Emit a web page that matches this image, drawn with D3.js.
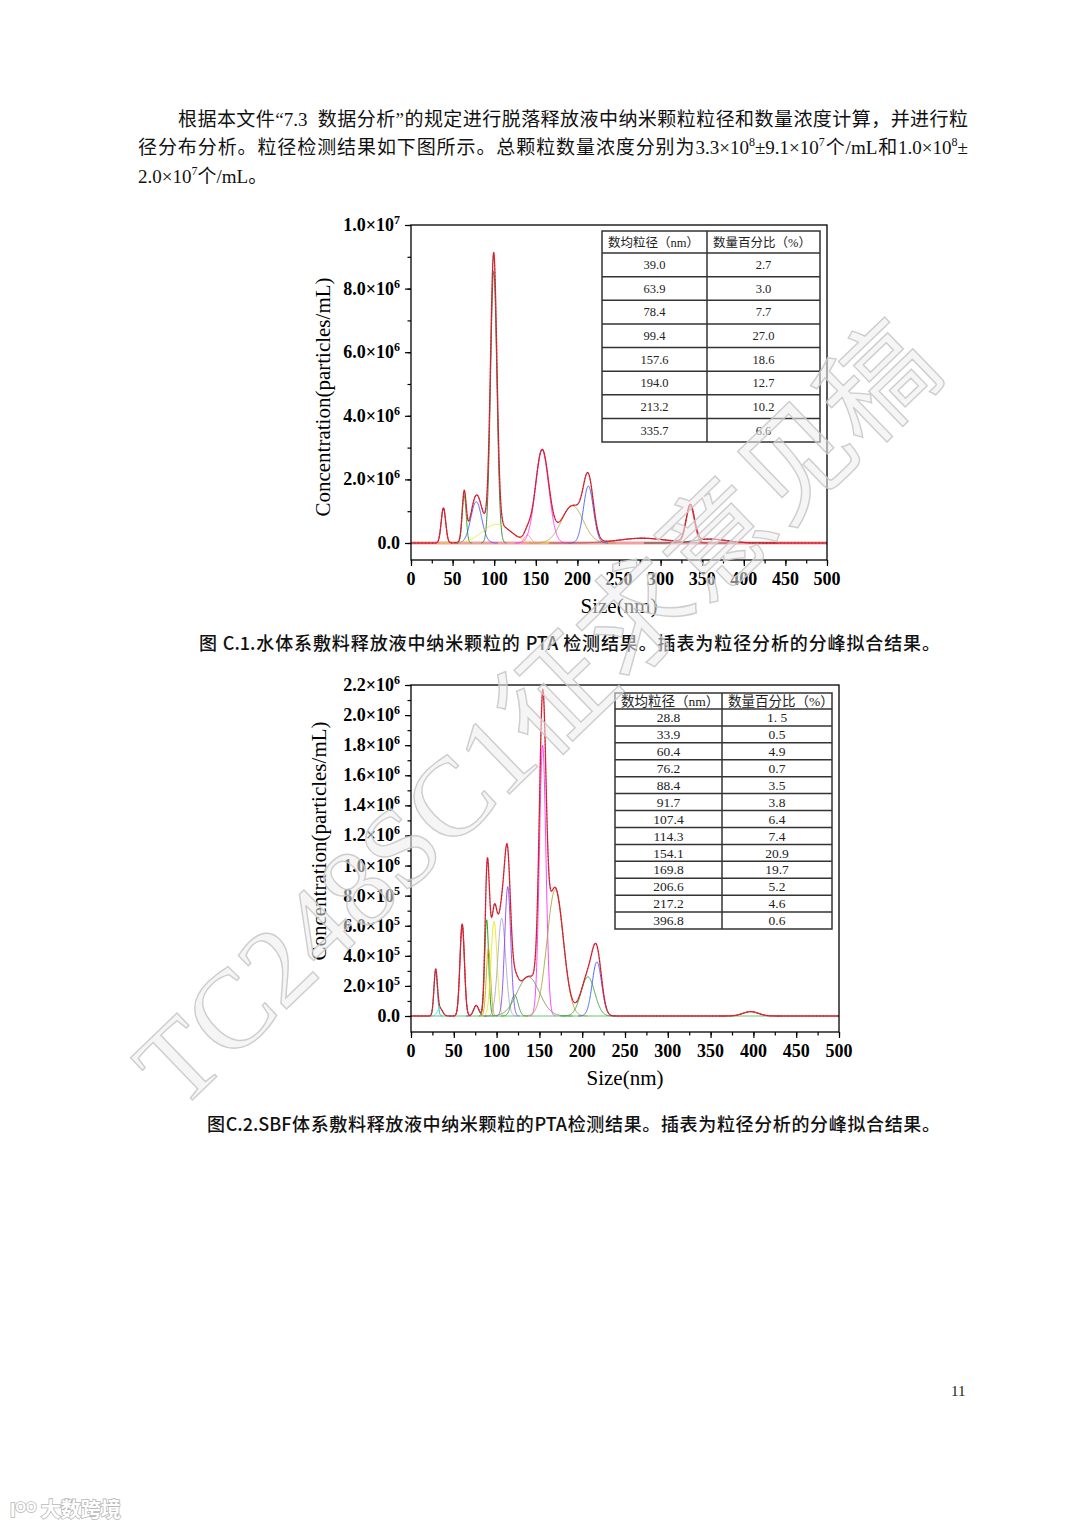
<!DOCTYPE html>
<html>
<head>
<meta charset="utf-8">
<title>纳米颗粒 PTA 检测结果</title>
<style>
    body { margin: 0; background: #fff; }
    #page { position: relative; width: 1080px; height: 1527px; overflow: hidden; background: #fff; }
    #charts, #mark { position: absolute; left: 0; top: 0; }
    #mark { pointer-events: none; }
    .line {
        position: absolute;
        font-family: "Liberation Serif", "Noto Sans CJK SC", serif;
        font-size: 19px; line-height: 29px; height: 29px; color: #111;
    }
    .just { text-align: justify; text-align-last: justify; }
    .line sup { font-size: 12px; vertical-align: 0; position: relative; top: -8px; }
    .cap {
        position: absolute;
        font-family: "Liberation Sans Narrow", "Noto Sans CJK SC", sans-serif;
        font-size: 18px; font-weight: 500; line-height: 26px; height: 26px; color: #111;
        text-align: justify; text-align-last: justify;
    }
    .pnum { position: absolute; font-family: "Liberation Serif", serif; font-size: 15px; color: #222; }
</style>
<script src="https://d3js.org/d3.v7.min.js"></script>
</head>
<body>
<div id="page">
    <svg id="charts" width="1080" height="1527"></svg>

    <div class="line just" style="left:178px;top:105px;width:790px;">根据本文件“7.3&nbsp;&nbsp;数据分析”的规定进行脱落释放液中纳米颗粒粒径和数量浓度计算，并进行粒</div>
    <div class="line just" style="left:138px;top:133px;width:830px;">径分布分析。粒径检测结果如下图所示。总颗粒数量浓度分别为3.3×10<sup>8</sup>±9.1×10<sup>7</sup>个/mL和1.0×10<sup>8</sup>±</div>
    <div class="line" style="left:138px;top:162px;">2.0×10<sup>7</sup>个/mL。</div>

    <div class="cap" style="left:199px;top:629px;width:741px;">图 C.1.水体系敷料释放液中纳米颗粒的 PTA 检测结果。插表为粒径分析的分峰拟合结果。</div>
    <div class="cap" style="left:207px;top:1110px;width:733px;">图C.2.SBF体系敷料释放液中纳米颗粒的PTA检测结果。插表为粒径分析的分峰拟合结果。</div>

    <div class="pnum" style="left:951px;top:1383px;">11</div>

    <svg id="mark" width="1080" height="1527"></svg>
</div>

<script>
    // ---------- data ----------
    // figure C.1 : fitted peaks (centre nm, height particles/mL, sigma nm)
    var peakCenter1 = [39.0, 63.9, 78.4, 99.4, 103, 140, 157.6, 194.0, 213.2, 278, 335.7, 360];
    var peakHeight1 = [1.1e6, 1.5e6, 1.3e6, 8.55e6, 0.59e6, 0.25e6, 2.92e6, 1.17e6, 1.79e6, 0.15e6, 1.14e6, 0.12e6];
    var peakSigma1 = [2.7, 2.4, 6.5, 3.8, 17, 4, 8, 13, 6, 28, 5, 20];

    // figure C.2 : fitted peaks
    var peakCenter2 = [28.8, 33.9, 59.8, 76.2, 88.4, 90.5, 97, 106, 113, 121, 137, 153.8, 168.5, 206.6, 217.2, 396.8];
    var peakHeight2 = [3.0e5, 0.5e5, 6.1e5, 0.7e5, 6.4e5, 4.5e5, 6.3e5, 6.5e5, 8.6e5, 1.4e5, 2.6e5, 18.0e5, 8.4e5, 2.6e5, 3.6e5, 0.29e5];
    var peakSigma2 = [2.0, 3, 2.6, 3, 2.3, 2.5, 3.5, 4.5, 3.5, 4, 13, 3.8, 9.5, 8, 5.5, 9];

    // inset tables
    var tableSize1 = ["39.0", "63.9", "78.4", "99.4", "157.6", "194.0", "213.2", "335.7"];
    var tablePct1 = ["2.7", "3.0", "7.7", "27.0", "18.6", "12.7", "10.2", "6.6"];
    var tableSize2 = ["28.8", "33.9", "60.4", "76.2", "88.4", "91.7", "107.4", "114.3", "154.1", "169.8", "206.6", "217.2", "396.8"];
    var tablePct2 = ["1. 5", "0.5", "4.9", "0.7", "3.5", "3.8", "6.4", "7.4", "20.9", "19.7", "5.2", "4.6", "0.6"];
    var tableHead = ["数均粒径（nm）", "数量百分比（%）"];

    // ticks
    var xTicks = [0, 50, 100, 150, 200, 250, 300, 350, 400, 450, 500];
    var yTicks1 = [0, 2e6, 4e6, 6e6, 8e6, 1e7];
    var yTicks2 = [0, 2e5, 4e5, 6e5, 8e5, 1e6, 1.2e6, 1.4e6, 1.6e6, 1.8e6, 2.0e6, 2.2e6];

    // component colours
    var colors1 = ["#e04848", "#10b010", "#4848ff", "#2e7d2e", "#e6e620", "#ff80c0", "#ff30ff", "#b0a040", "#3858ff", "#a04858", "#e02828", "#303030"];
    var colors2 = ["#00c8c8", "#40e0e0", "#c82828", "#4848ff", "#00a000", "#e0a000", "#e8e820", "#a8a8c8", "#8844ff", "#20a040", "#6a8a6a", "#ff30ff", "#b0a030", "#30a030", "#3858ff", "#d03030"];

    var serif = "'Liberation Serif', 'Times New Roman', serif";
    var cjk = "'Liberation Serif', 'Noto Sans CJK SC', serif";

    function gauss(c, h, s, x) {
        return h * Math.exp(-(x - c) * (x - c) / (2 * s * s));
    }

    function splitLabel(v) {
        if (v === 0) return ["0.0", ""];
        var e = Math.floor(Math.log10(v) + 1e-9);
        return [(v / Math.pow(10, e)).toFixed(1) + "×10", String(e)];
    }

    var svg = d3.select("#charts");

    function drawChart(box, yMax, yTicks, yMinorStep, centers, heights, sigmas, colors, baseCol, tbl) {
        var g = svg.append("g");

        var x = d3.scaleLinear().domain([0, 500]).range([box.left, box.right]);
        var y = d3.scaleLinear().domain([0, yMax]).range([box.zero, box.top]);

        var grid = d3.range(0, 500.001, 0.25);
        var line = d3.line()
            .x(function(d) { return x(d[0]); })
            .y(function(d) { return y(d[1]); });

        // baseline
        g.append("line")
            .attr("x1", x(0)).attr("x2", x(500))
            .attr("y1", y(0)).attr("y2", y(0))
            .attr("stroke", baseCol.color).attr("stroke-width", baseCol.width);

        // components
        centers.forEach(function(c, i) {
            var s = sigmas[i];
            var pts = grid.filter(function(v) { return v >= c - 4 * s && v <= c + 4 * s; })
                .map(function(v) { return [v, gauss(c, heights[i], s, v)]; });
            g.append("path")
                .attr("d", line(pts))
                .attr("fill", "none")
                .attr("stroke", colors[i])
                .attr("stroke-width", 0.9);
        });

        // cumulative fit + measured (dotted)
        var sum = grid.map(function(v) {
            var t = 0;
            centers.forEach(function(c, i) { t += gauss(c, heights[i], sigmas[i], v); });
            return [v, t];
        });
        g.append("path").attr("d", line(sum))
            .attr("fill", "none").attr("stroke", "#e8283a").attr("stroke-width", 1.3);
        g.append("path").attr("d", line(sum))
            .attr("fill", "none").attr("stroke", "#222").attr("stroke-width", 0.7)
            .attr("stroke-dasharray", "1,2.5").attr("opacity", 0.75);

        // frame
        g.append("rect")
            .attr("x", box.left).attr("y", box.top)
            .attr("width", box.right - box.left).attr("height", box.bottom - box.top)
            .attr("fill", "none").attr("stroke", "#000").attr("stroke-width", 1.3);

        // y axis ticks
        var yMinor = d3.range(0, yMax + 1, yMinorStep);
        var gyMinor = g.append("g").attr("transform", "translate(" + box.left + ",0)")
            .call(d3.axisLeft(y).tickValues(yMinor).tickSize(3.5).tickSizeOuter(0).tickFormat(""));
        var gy = g.append("g").attr("transform", "translate(" + box.left + ",0)")
            .call(d3.axisLeft(y).tickValues(yTicks).tickSize(6).tickSizeOuter(0).tickFormat(""));
        [gyMinor, gy].forEach(function(a) {
            a.select(".domain").remove();
            a.selectAll("line").attr("stroke", "#000").attr("stroke-width", 1.2);
        });

        // x axis ticks
        var xb = d3.scaleLinear().domain([0, 500]).range([box.left, box.right]);
        var gxMinor = g.append("g").attr("transform", "translate(0," + box.bottom + ")")
            .call(d3.axisBottom(xb).tickValues(d3.range(0, 501, 25)).tickSize(3.5).tickSizeOuter(0).tickFormat(""));
        var gx = g.append("g").attr("transform", "translate(0," + box.bottom + ")")
            .call(d3.axisBottom(xb).tickValues(xTicks).tickSize(6).tickSizeOuter(0).tickFormat(""));
        [gxMinor, gx].forEach(function(a) {
            a.select(".domain").remove();
            a.selectAll("line").attr("stroke", "#000").attr("stroke-width", 1.2);
        });

        // y tick labels
        var yl = g.selectAll(".ylab").data(yTicks).enter().append("text")
            .attr("class", "ylab")
            .attr("x", box.left - 11)
            .attr("y", function(d) { return y(d) + 6; })
            .attr("text-anchor", "end")
            .attr("font-family", serif).attr("font-weight", "bold").attr("font-size", 18);
        yl.each(function(d) {
            var p = splitLabel(d), t = d3.select(this);
            t.append("tspan").text(p[0]);
            if (p[1]) t.append("tspan").attr("dy", -7).attr("font-size", 12).text(p[1]);
        });

        // x tick labels
        g.selectAll(".xlab").data(xTicks).enter().append("text")
            .attr("x", function(d) { return xb(d); })
            .attr("y", box.bottom + box.xlabGap)
            .attr("text-anchor", "middle")
            .attr("font-family", serif).attr("font-weight", "bold").attr("font-size", 18)
            .text(function(d) { return d; });

        // axis titles
        g.append("text")
            .attr("x", (box.left + box.right) / 2)
            .attr("y", box.bottom + box.xlabGap + 28)
            .attr("text-anchor", "middle")
            .attr("font-family", serif).attr("font-size", 21)
            .text("Size(nm)");
        g.append("text")
            .attr("transform", "translate(" + box.ytitleX + "," + box.ytitleY + ") rotate(-90)")
            .attr("text-anchor", "middle")
            .attr("font-family", serif).attr("font-size", 21)
            .text("Concentration(particles/mL)");

        // inset table
        var tg = g.append("g");
        var n = tbl.sizes.length;
        var rows = d3.scaleBand().domain(d3.range(n)).range([tbl.headBottom, tbl.bottom]);
        tg.append("rect").attr("x", tbl.left).attr("y", tbl.top)
            .attr("width", tbl.right - tbl.left).attr("height", tbl.bottom - tbl.top)
            .attr("fill", "#fff").attr("stroke", "#333").attr("stroke-width", 1.5);
        tg.selectAll(".hr").data(d3.range(n)).enter().append("line")
            .attr("x1", tbl.left).attr("x2", tbl.right)
            .attr("y1", function(i) { return rows(i); }).attr("y2", function(i) { return rows(i); })
            .attr("stroke", "#333").attr("stroke-width", 1.5);
        tg.append("line").attr("x1", tbl.mid).attr("x2", tbl.mid)
            .attr("y1", tbl.top).attr("y2", tbl.bottom)
            .attr("stroke", "#333").attr("stroke-width", 1.5);

        tg.selectAll(".th").data(tableHead).enter().append("text")
            .attr("x", function(d, i) { return (i === 0 ? tbl.left : tbl.mid) + 6; })
            .attr("y", (tbl.top + tbl.headBottom) / 2 + tbl.fs * 0.36)
            .attr("font-family", cjk).attr("font-size", tbl.fs).attr("fill", "#222")
            .text(function(d) { return d; });

        var cols = [[tbl.sizes, (tbl.left + tbl.mid) / 2], [tbl.pcts, (tbl.mid + tbl.right) / 2]];
        cols.forEach(function(col) {
            tg.selectAll(null).data(col[0]).enter().append("text")
                .attr("x", col[1])
                .attr("y", function(d, i) { return rows(i) + rows.bandwidth() / 2 + tbl.fs * 0.35; })
                .attr("text-anchor", "middle")
                .attr("font-family", serif).attr("font-size", tbl.fs).attr("fill", "#222")
                .text(function(d) { return d; });
        });
    }

    drawChart(
        { left: 411, right: 827, top: 225, zero: 543, bottom: 560, xlabGap: 25, ytitleX: 330, ytitleY: 397 },
        1e7, yTicks1, 1e6,
        peakCenter1, peakHeight1, peakSigma1, colors1,
        { color: "#f0a0a0", width: 3 },
        { left: 602, right: 820, top: 231, headBottom: 253, bottom: 442, mid: 707, fs: 12.5,
          sizes: tableSize1, pcts: tablePct1 }
    );

    drawChart(
        { left: 411, right: 839, top: 685, zero: 1016, bottom: 1032, xlabGap: 25, ytitleX: 326, ytitleY: 841 },
        2.2e6, yTicks2, 1e5,
        peakCenter2, peakHeight2, peakSigma2, colors2,
        { color: "#9ad89a", width: 1.5 },
        { left: 615, right: 832, top: 693, headBottom: 709, bottom: 929, mid: 722, fs: 13.5,
          sizes: tableSize2, pcts: tablePct2 }
    );

    // ---------- draft watermark ----------
    var mark = d3.select("#mark");
    mark.append("text")
        .attr("transform", "translate(180,1112) rotate(-44)")
        .attr("font-family", "'Liberation Serif', 'Noto Sans CJK SC', serif")
        .attr("font-size", 112)
        .attr("fill", "#ececec").attr("fill-opacity", 0.55)
        .attr("stroke", "#c6c6c6").attr("stroke-width", 1.4).attr("stroke-opacity", 0.85)
        .text("TC248SC1征求意见稿");

    // corner logo
    var logo = mark.append("g").attr("transform", "translate(10,1517)");
    logo.append("text")
        .attr("x", 0).attr("y", 0)
        .attr("font-family", "'Noto Sans CJK SC', sans-serif").attr("font-size", 20).attr("font-weight", "bold")
        .attr("fill", "#fff").attr("stroke", "#b8b8b8").attr("stroke-width", 1.6).attr("paint-order", "stroke")
        .text("Ɩᴼᴼ 大数跨境");
</script>
</body>
</html>
